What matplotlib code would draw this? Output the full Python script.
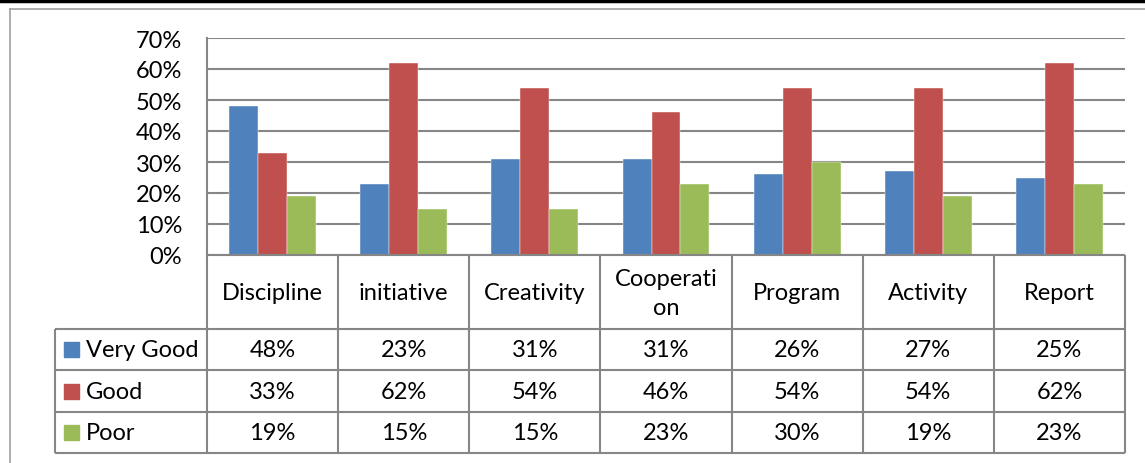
import numpy as np
import matplotlib
matplotlib.use("Agg")
import matplotlib.pyplot as plt
from matplotlib.lines import Line2D
from matplotlib.patches import Rectangle

categories = ["Discipline", "initiative", "Creativity", "Cooperation",
              "Program", "Activity", "Report"]
header_labels = ["Discipline", "initiative", "Creativity", "Cooperati\non",
                 "Program", "Activity", "Report"]
series_names = ["Very Good", "Good", "Poor"]
very_good = [0.48, 0.23, 0.31, 0.31, 0.26, 0.27, 0.25]
good = [0.33, 0.62, 0.54, 0.46, 0.54, 0.54, 0.62]
poor = [0.19, 0.15, 0.15, 0.23, 0.30, 0.19, 0.23]
colors = ["#4F81BD", "#C0504D", "#9BBB59"]
yticks = [0, 0.1, 0.2, 0.3, 0.4, 0.5, 0.6, 0.7]

W, H = 1145, 464
GRID = "#868686"
plt.rcParams["font.family"] = ["Lato", "DejaVu Sans"]
FS = 17


def box(x0, y0, x1, y1):
    # pixel box (top-left origin) -> figure fraction rect
    return [x0 / W, 1 - y1 / H, (x1 - x0) / W, (y1 - y0) / H]


fig = plt.figure(figsize=(W / 100, H / 100), dpi=100)

# outer frame bits
fig.add_artist(Line2D([0, 1], [1 - 1.5 / H] * 2, color="black", lw=2.5))
fig.add_artist(Line2D([9.5 / W, 1], [1 - 9.5 / H] * 2, color="#A0A0A0", lw=1.2))
fig.add_artist(Line2D([9.5 / W] * 2, [0, 1 - 9.5 / H], color="#A0A0A0", lw=1.2))

# bar chart
ax = fig.add_axes(box(207, 39, 1125, 256))
n = len(categories)
x = np.arange(n)
bw = 0.221
for i, (vals, c) in enumerate(zip([very_good, good, poor], colors)):
    ax.bar(x + (i - 1) * bw, vals, width=bw, color=c, zorder=3,
           edgecolor="white", linewidth=0.3)
ax.set_xlim(-0.5, n - 0.5)
ax.set_ylim(0, 0.7)
ax.set_yticks(yticks)
ax.set_yticklabels([f"{int(round(v * 100))}%" for v in yticks], fontsize=FS)
ax.tick_params(axis="y", length=0, pad=18)
ax.set_xticks([])
ax.yaxis.grid(True, color=GRID, lw=1.5, zorder=0)
for s in ["top", "right", "bottom"]:
    ax.spines[s].set_visible(False)
ax.spines["left"].set_color(GRID)
ax.spines["left"].set_linewidth(1.5)

# data table
leg_w = 152 / 131.14
tx = fig.add_axes(box(55, 256, 1125, 455))
tx.set_xlim(-0.5 - leg_w, n - 0.5)
tx.set_ylim(455, 256)
tx.axis("off")
row_edges = [256, 330, 371.5, 413, 454]
lk = dict(color=GRID, lw=1.5, clip_on=False)
tx.hlines(row_edges[0], -0.5, n - 0.5, **lk)
tx.hlines(row_edges[1:], -0.5 - leg_w, n - 0.5, **lk)
for b in np.arange(n + 1) - 0.5:
    tx.vlines(b, row_edges[0], row_edges[-1], **lk)
tx.vlines(-0.5 - leg_w, row_edges[1], row_edges[-1], **lk)

for j, lab in enumerate(header_labels):
    tx.text(j, (row_edges[0] + row_edges[1]) / 2 + 1, lab, ha="center",
            va="center", fontsize=FS, linespacing=1.5)

px = 131.14  # pixels per column unit
for r, (name, vals, c) in enumerate(zip(series_names, [very_good, good, poor], colors)):
    yc = (row_edges[r + 1] + row_edges[r + 2]) / 2
    x0 = -0.5 - leg_w + 9 / px
    tx.add_patch(Rectangle((x0, yc - 7.5), 15 / px, 15, color=c, clip_on=False))
    tx.text(x0 + 22 / px, yc, name, ha="left", va="center", fontsize=FS)
    for j, v in enumerate(vals):
        tx.text(j, yc, f"{int(round(v * 100))}%", ha="center", va="center",
                fontsize=FS)

fig.savefig("out.png", dpi=100, facecolor="white")
